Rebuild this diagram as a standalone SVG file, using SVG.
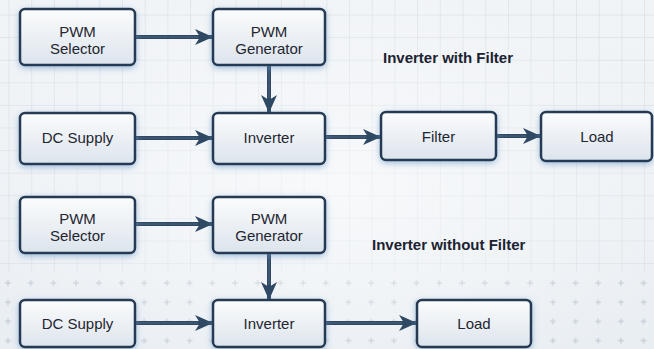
<svg xmlns="http://www.w3.org/2000/svg" width="654" height="349" viewBox="0 0 654 349">
<defs>
<linearGradient id="bg" x1="0" y1="0" x2="0" y2="1">
<stop offset="0" stop-color="#f1f4f7"/>
<stop offset="1" stop-color="#e9eef3"/>
</linearGradient>
<radialGradient id="glowbg" cx="0.5" cy="0.55" r="0.6">
<stop offset="0" stop-color="#ffffff" stop-opacity="0.6"/>
<stop offset="1" stop-color="#ffffff" stop-opacity="0"/>
</radialGradient>
<linearGradient id="boxfill" x1="0" y1="0" x2="0" y2="1">
<stop offset="0" stop-color="#fbfcfd"/>
<stop offset="1" stop-color="#dce4ec"/>
</linearGradient>
<pattern id="grid" x="8.5" y="14.5" width="22.7" height="22.6" patternUnits="userSpaceOnUse">
<path d="M0,0 V22.6 M0,0 H22.7" fill="none" stroke="#d0d7df" stroke-width="1"/>
</pattern>
<pattern id="cross" x="8" y="283" width="22.7" height="19.2" patternUnits="userSpaceOnUse">
<path d="M-3,0 H3 M0,-3 V3 M19.7,0 H25.7 M22.7,-3 V3 M-3,19.2 H3 M0,16.2 V22.2 M19.7,19.2 H25.7 M22.7,16.2 V22.2" fill="none" stroke="#bcc5cf" stroke-width="1"/>
</pattern>
<filter id="glow" x="-20%" y="-30%" width="140%" height="160%">
<feDropShadow dx="0" dy="2" stdDeviation="3" flood-color="#5f90c2" flood-opacity="0.55"/>
</filter>
<marker id="ah" viewBox="0 0 18 16" refX="17" refY="8" markerWidth="18" markerHeight="16" markerUnits="userSpaceOnUse" orient="auto">
<path d="M0,0 L18,8 L0,16 L5,8 Z" fill="#2f4863"/>
</marker>
<style>
.box{fill:url(#boxfill);stroke:#253a52;stroke-width:2.5;filter:url(#glow)}
.lbl{font-family:"Liberation Sans",Arial,sans-serif;font-size:15px;fill:#1f2630;text-anchor:middle}
.title{font-family:"Liberation Sans",Arial,sans-serif;font-size:15px;font-weight:bold;fill:#1b2230}
.ln{fill:none;stroke:#2f4863;stroke-width:4;marker-end:url(#ah)}
.hl{fill:none;stroke:#6f8aa6;stroke-width:0.8;stroke-opacity:0.6}
</style>
</defs>
<rect width="654" height="349" fill="url(#bg)"/>
<rect width="654" height="272" fill="url(#grid)"/>
<rect y="274" width="654" height="75" fill="url(#cross)"/>
<rect width="654" height="349" fill="url(#glowbg)"/>

<g id="connectors">
<path class="ln" d="M135,37 H212"/><path class="hl" d="M136,37 H198"/>
<path class="ln" d="M269,65 V112"/><path class="hl" d="M269,66 V98"/>
<path class="ln" d="M135,138 H212"/><path class="hl" d="M136,138 H198"/>
<path class="ln" d="M325,137 H380"/><path class="hl" d="M326,137 H366"/>
<path class="ln" d="M496,136 H540"/><path class="hl" d="M497,136 H526"/>
<path class="ln" d="M135,224 H212"/><path class="hl" d="M136,224 H198"/>
<path class="ln" d="M269,253 V299"/><path class="hl" d="M269,254 V285"/>
<path class="ln" d="M135,323 H212"/><path class="hl" d="M136,323 H198"/>
<path class="ln" d="M325,323 H416"/><path class="hl" d="M326,323 H402"/>
</g>

<g id="pwm-selector-1"><rect class="box" x="20" y="9" width="115" height="56" rx="5"/><text class="lbl" x="77.5" y="37">PWM</text><text class="lbl" x="77.5" y="54">Selector</text></g>
<g id="pwm-generator-1"><rect class="box" x="213" y="9" width="112" height="56" rx="5"/><text class="lbl" x="269" y="37">PWM</text><text class="lbl" x="269" y="54">Generator</text></g>
<g id="dc-supply-1"><rect class="box" x="20" y="113" width="115" height="51" rx="5"/><text class="lbl" x="77.5" y="143">DC Supply</text></g>
<g id="inverter-1"><rect class="box" x="213" y="113" width="112" height="51" rx="5"/><text class="lbl" x="269" y="143">Inverter</text></g>
<g id="filter-1"><rect class="box" x="381" y="112" width="115" height="48" rx="5"/><text class="lbl" x="438.5" y="142">Filter</text></g>
<g id="load-1"><rect class="box" x="541" y="112" width="111" height="49" rx="5"/><text class="lbl" x="597" y="142">Load</text></g>
<text class="title" x="383" y="63">Inverter with Filter</text>

<g id="pwm-selector-2"><rect class="box" x="20" y="197" width="115" height="56" rx="5"/><text class="lbl" x="77.5" y="224">PWM</text><text class="lbl" x="77.5" y="241">Selector</text></g>
<g id="pwm-generator-2"><rect class="box" x="213" y="197" width="112" height="56" rx="5"/><text class="lbl" x="269" y="224">PWM</text><text class="lbl" x="269" y="241">Generator</text></g>
<g id="dc-supply-2"><rect class="box" x="20" y="300" width="115" height="47" rx="5"/><text class="lbl" x="77.5" y="329">DC Supply</text></g>
<g id="inverter-2"><rect class="box" x="213" y="300" width="112" height="47" rx="5"/><text class="lbl" x="269" y="329">Inverter</text></g>
<g id="load-2"><rect class="box" x="417" y="300" width="114" height="47" rx="5"/><text class="lbl" x="474" y="329">Load</text></g>
<text class="title" x="372" y="250">Inverter without Filter</text>
</svg>
